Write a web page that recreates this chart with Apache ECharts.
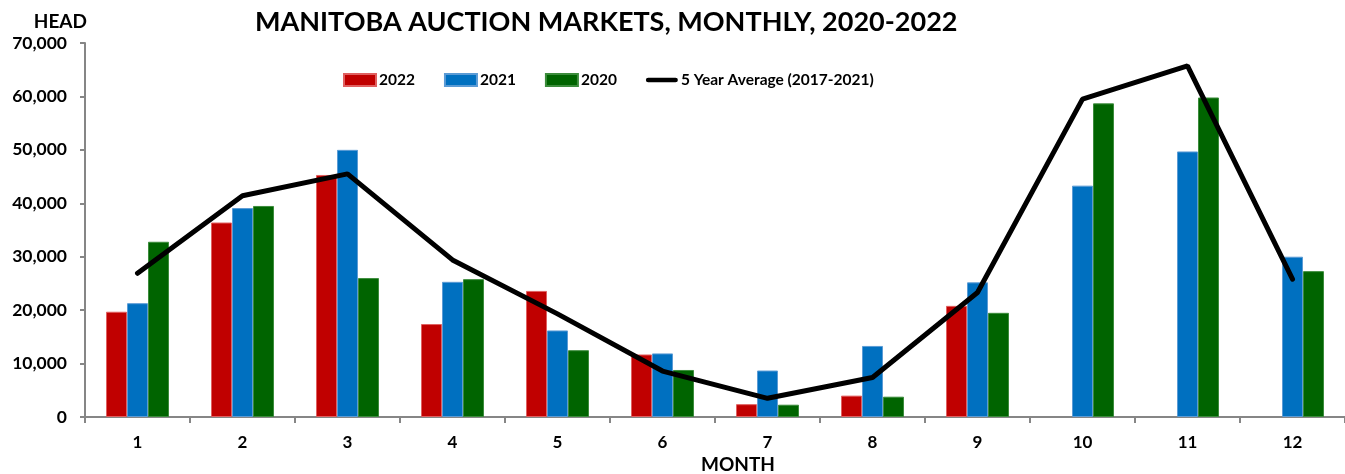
<!DOCTYPE html>
<html>
<head>
<meta charset="utf-8">
<script src="https://cdn.jsdelivr.net/npm/echarts@6/dist/echarts.min.js"></script>
<style>
  html, body { margin:0; padding:0; background:#fff; }
  #chart { width:1345px; height:474px; }
</style>
</head>
<body>
<div id="chart"></div>
<script>
  const months = ['1','2','3','4','5','6','7','8','9','10','11','12'];
  const y2022 = [19700, 36400, 45300, 17400, 23600, 11700, 2400, 4000, 20800, null, null, null];
  const y2021 = [21300, 39100, 50000, 25300, 16200, 11900, 8700, 13300, 25200, 43300, 49700, 30000];
  const y2020 = [32800, 39500, 26000, 25800, 12500, 8800, 2300, 3800, 19500, 58700, 59800, 27300];
  const avg5  = [26900, 41400, 45500, 29400, 19300, 8600, 3500, 7400, 23300, 59500, 65700, 25800];

  const FONT = 'Lato';
  const chart = echarts.init(document.getElementById('chart'));

  const barSeries = (name, data, color, border) => ({
    name, type:'bar', data,
    barGap: 0, barCategoryGap: '40%',
    itemStyle: { color, borderColor: border, borderWidth: 1 }
  });

  chart.setOption({
    backgroundColor: '#fff',
    animation: false,
    textStyle: { fontFamily: FONT },
    title: {
      text: 'MANITOBA AUCTION MARKETS, MONTHLY, 2020-2022',
      left: 250, top: 4,
      textStyle: { fontFamily: FONT, fontSize: 27, fontWeight: 'bold', color: '#000' }
    },
    legend: {
      left: 343, top: 72, padding: 0,
      itemWidth: 32, itemHeight: 12, itemGap: 29,
      textStyle: { fontFamily: FONT, fontSize: 15.5, fontWeight: 'bold', color: '#000', padding: [0, 0, 0, -2] },
      data: [
        { name: '2022', icon: 'rect' },
        { name: '2021', icon: 'rect' },
        { name: '2020', icon: 'rect' },
        { name: '5 Year Average (2017-2021)', icon: 'path://M2.5,0 h29 a2.5,2.5 0 0 1 0,5 h-29 a2.5,2.5 0 0 1 0,-5 z' }
      ]
    },
    grid: { left: 85, right: -6, top: 43, bottom: 57 },
    xAxis: {
      type: 'category', data: months,
      axisLine: { lineStyle: { color: '#868686', width: 2 } },
      axisTick: { show: true, length: 6, lineStyle: { color: '#868686', width: 2 } },
      axisLabel: { color: '#000', fontFamily: FONT, fontSize: 17, fontWeight: 'bold', margin: 17 }
    },
    yAxis: {
      type: 'value', min: 0, max: 70000, interval: 10000,
      name: 'HEAD', nameLocation: 'end', nameGap: 12,
      nameTextStyle: { color: '#000', fontFamily: FONT, fontSize: 19, fontWeight: 'bold', align: 'right', padding: [0, -2, 0, 0] },
      axisLine: { show: true, lineStyle: { color: '#868686', width: 2 } },
      axisTick: { show: true, length: 5, lineStyle: { color: '#868686', width: 2 } },
      splitLine: { show: false },
      axisLabel: {
        color: '#000', fontFamily: FONT, fontSize: 17.5, fontWeight: 'bold', margin: 18,
        formatter: v => v.toLocaleString('en-US')
      }
    },
    graphic: [{
      type: 'text', left: 701, top: 455,
      style: { text: 'MONTH', fontFamily: FONT, fontSize: 19, fontWeight: 'bold', fill: '#000' }
    }],
    series: [
      barSeries('2022', y2022, '#C00000', '#E06060'),
      barSeries('2021', y2021, '#0070C0', '#5B9BD5'),
      barSeries('2020', y2020, '#006400', '#3C8C3C'),
      {
        name: '5 Year Average (2017-2021)', type: 'line', data: avg5,
        symbol: 'none', z: 5,
        lineStyle: { color: '#000', width: 5, cap: 'round' },
        itemStyle: { color: '#000' }
      }
    ]
  });

  window.addEventListener('resize', () => chart.resize());
</script>
</body>
</html>
